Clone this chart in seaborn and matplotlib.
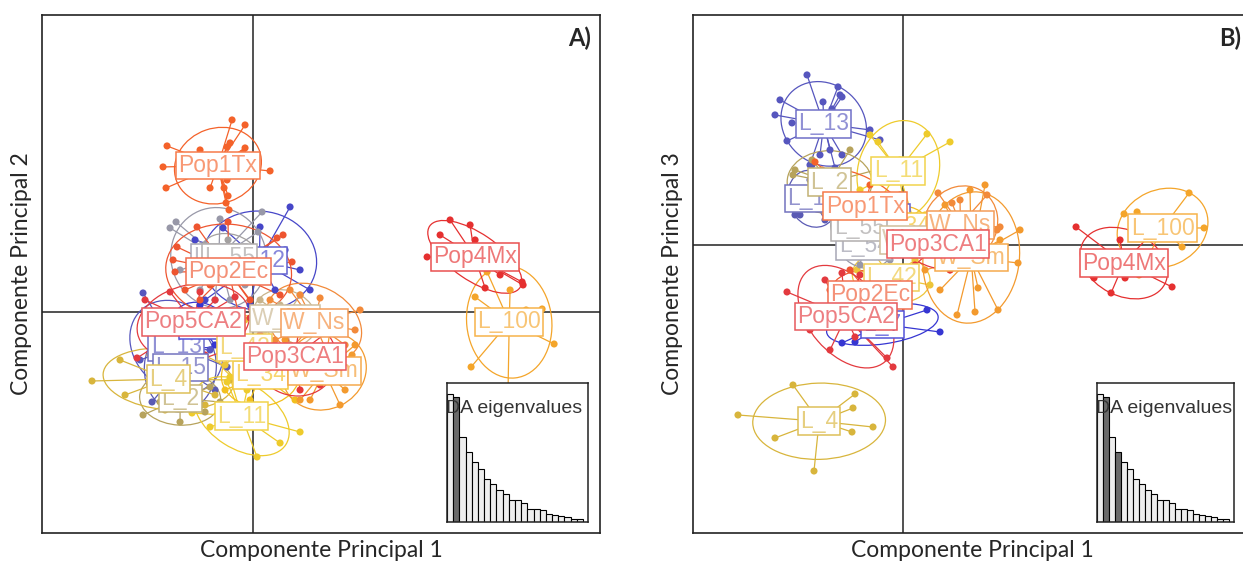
import numpy as np
import pandas as pd
import seaborn as sns
import matplotlib.pyplot as plt
from matplotlib.patches import Ellipse
from matplotlib.collections import LineCollection
from matplotlib.colors import to_rgb

sns.set_theme(style="white")
plt.rcParams['font.family'] = ['Liberation Sans', 'DejaVu Sans']

# group colours
colors = {
    "L_12": "#4646C8", "L_13": "#5656BE", "L_15": "#5A5AB4", "L_7": "#3636D2",
    "L_2": "#B7A35C", "L_4": "#D8B53C", "L_11": "#EECB2C", "L_34": "#F2BF1E",
    "L_42": "#EDC53A", "L_54": "#9898A8", "L_55": "#A3A0A0", "L_100": "#F4A52A",
    "W_Ma": "#C8B48C", "W_Sm": "#F39A2E", "W_Ns": "#F28A3A",
    "Pop1Tx": "#F4622A", "Pop4Mx": "#E53030", "Pop2Ec": "#EE5530",
    "Pop5CA2": "#E33A3F", "Pop3CA1": "#E5383B",
}
# drawing order (later labels sit on top)
order = list(colors.keys())

# ---- panel A : LD1 vs LD2 ----
A_Pop1Tx = [(-8.6, 16.6), (-9.0, 14.5), (-8.7, 12.4), (-4.3, 12.4), (-2.3, 16.9), (-2.6, 16.5),
            (-0.8, 16.4), (-1.0, 15.9), (1.7, 14.1), (-2.6, 13.2), (-2.9, 12.4), (-2.5, 11.6),
            (-2.7, 10.9), (-2.4, 10.2), (-2.1, 19.2), (-0.8, 18.7), (-5.3, 16.2), (-6.3, 15.2)]
A_Pop2Ec = [(-7.6, 6.5), (-8.0, 5.2), (-7.8, 4.0), (-5.6, 8.5), (-2.5, 9.0), (2.4, 7.4), (3.0, 7.7),
            (3.9, 5.0), (2.7, 1.7), (-0.3, 1.2), (-5.3, 1.2), (-6.8, 2.2), (-1.3, -0.8), (0.9, -0.6),
            (-4.3, 2.7)]
A_L_54 = [(-8.3, 8.4), (-7.7, 9.0), (-3.3, 9.3), (0.9, 10.0), (0.5, 8.0), (-0.8, 2.7), (-5.3, 2.2),
          (-2.3, 1.2), (-7.3, 4.2), (-3.8, 1.2), (-0.3, 3.2)]
A_L_12 = [(3.7, 10.5), (0.7, 8.5), (-3.0, 8.4), (-5.8, 7.2), (-4.8, 1.2), (-0.3, 0.7), (2.2, 2.2),
          (3.2, 6.2), (4.7, 4.2), (5.7, 2.2)]
A_L_55 = [(-4.8, 6.7), (0.2, 6.2), (-0.3, 3.2), (-4.3, 3.7), (-2.5, 7.2)]
A_Pop5CA2 = [(-11.6, -4.6), (-10.8, 1.2), (-8.3, 2.0), (-5.3, 2.0), (-1.8, 1.5), (-0.3, -0.6),
             (-1.3, -3.3), (-4.8, -4.3), (-8.3, -3.8), (-9.3, -2.3), (-3.8, 1.2)]
A_W_Ma = [(0.7, 1.2), (4.7, 1.7), (6.7, -1.8), (3.7, -3.3), (0.7, -2.3), (2.7, 0.7)]
A_W_Ns = [(6.7, 1.4), (10.2, -1.8), (9.2, -3.3), (4.7, 1.7), (3.7, 2.2), (1.7, 1.2), (8.2, -5.8),
          (3.7, -3.8), (2.2, -2.8), (10.7, 0.2)]
A_Pop3CA1 = [(1.7, -6.8), (4.7, -7.8), (6.7, -7.3), (2.7, -0.8), (7.7, -1.8), (8.2, -4.8),
             (-0.3, -5.3), (0.7, -2.3), (4.7, -0.8), (5.2, -6.8)]
A_W_Sm = [(9.9, -4.3), (9.2, -7.8), (8.7, -9.3), (4.7, -8.8), (3.2, -2.8), (2.2, -6.3), (7.7, -1.8),
          (5.7, -8.8), (9.7, -5.8), (10.2, -3.3)]
A_L_34 = [(-2.3, -3.8), (3.7, -3.3), (4.2, -8.8), (-0.3, -8.8), (-2.8, -7.8), (1.7, -4.3),
          (-1.3, -6.8), (3.2, -6.8)]
A_L_42 = [(-3.3, -1.8), (1.2, -1.8), (1.7, -5.3), (-2.8, -5.3), (-0.8, -0.8), (-1.3, -6.3)]
A_L_13 = [(-11.0, 1.9), (-2.6, -5.5), (-10.3, -1.8), (-11.3, -4.8), (-5.3, 0.2), (-4.3, -3.8),
          (-7.3, -6.8), (-9.3, -7.3)]
A_L_15 = [(-10.1, -9.0), (-4.3, -1.8), (-3.8, -7.8), (-9.3, -3.3), (-5.8, -8.8), (-8.3, -1.8),
          (-9.3, -6.3)]
A_L_7 = [(-7.8, -0.3), (-2.8, -0.8), (-3.8, -3.3), (-6.8, -2.8), (-5.3, 0.7)]
A_L_4 = [(-16.1, -6.9), (-13.3, -4.8), (-10.3, -4.3), (-8.8, -9.8), (-4.8, -9.3), (-5.3, -4.8),
         (-7.3, -3.8), (-12.8, -8.3), (-2.3, -6.8), (-3.8, -8.3)]
A_L_2 = [(-11.0, -10.3), (-10.3, -7.0), (-8.0, -5.3), (-4.3, -7.5), (-4.8, -10.0), (-7.3, -11.0),
         (-9.3, -9.0), (-3.3, -9.0)]
A_L_11 = [(-4.3, -11.5), (-2.3, -11.3), (4.7, -12.0), (2.7, -13.1), (-0.6, -7.8), (-2.6, -7.0),
          (-2.3, -6.5), (-6.1, -10.1), (0.4, -14.5)]
A_Pop4Mx = [(17.4, 5.5), (23.2, 2.4), (26.9, 3.0), (27.0, 2.7), (21.7, 8.7), (19.7, 9.2),
            (24.7, 3.7), (20.2, 5.0), (22.2, 7.2), (18.7, 7.7)]
A_L_100 = [(23.4, 4.0), (22.2, 1.5), (27.3, 0.2), (28.9, 0.3), (30.1, -3.2), (21.8, -5.5),
           (25.5, -7.5), (25.7, 2.2)]

# ---- panel B : LD1 vs LD3 ----
B_L_13 = [(-9.6, 17.0), (-6.5, 15.8), (-6.3, 15.0), (-6.1, 14.8), (-8.0, 14.3), (-7.1, 13.6),
          (-11.1, 12.2), (-11.6, 10.4), (-7.3, 9.5), (-6.1, 9.0), (-8.3, 9.0), (-9.3, 8.0), (-6.8, 7.7),
          (-3.3, 11.5), (-2.3, 10.5), (-12.8, 13.0), (-12.3, 14.5)]
B_L_11 = [(2.4, 11.1), (4.7, 10.3), (-2.5, 10.3), (-3.3, 11.0), (0.2, 3.5), (1.2, 2.0), (-2.3, 4.5),
          (-4.3, 5.5), (-0.3, 8.5)]
B_L_2 = [(-10.8, 7.5), (-11.0, 7.0), (-9.1, 8.5), (-5.3, 9.5), (-4.3, 4.5), (-7.3, 3.0), (-9.8, 4.0),
         (-5.8, 5.0), (-2.7, 7.5)]
B_L_15 = [(-11.3, 5.5), (-10.8, 3.0), (-10.3, 3.0), (-7.8, 2.5), (-6.3, 3.0), (-7.3, 5.5),
          (-9.3, 6.5), (-9.1, 8.0)]
B_L_12 = [(-3.3, 4.5), (-0.8, 4.0), (0.2, 2.0), (-2.3, 1.0), (-4.3, 2.0)]
B_Pop1Tx = [(-8.8, 8.3), (-8.1, 7.5), (-5.3, 4.5), (-1.3, 3.0), (0.2, 2.0), (-2.3, 1.5), (-5.8, 1.5),
            (-7.3, 3.0), (-3.3, 6.0), (-0.3, 5.0), (0.7, 0.5)]
B_L_55 = [(-6.8, 3.5), (-2.3, 3.0), (-1.8, 0.5), (-5.3, 0.0), (-3.8, 2.5), (-6.3, 1.0)]
B_L_54 = [(-6.3, 1.5), (-2.3, 0.5), (-1.3, -1.5), (-4.3, -2.0), (-5.8, -1.0), (-3.3, 2.0)]
B_L_34 = [(-1.3, 3.5), (2.2, 3.0), (1.7, 0.0), (-1.8, 0.5), (0.2, 2.0)]
B_W_Ma = [(0.2, 1.5), (2.7, 0.5), (1.7, -1.0), (-0.3, -0.5), (1.7, 2.0)]
B_W_Ns = [(8.4, 5.0), (3.5, 5.2), (4.9, 4.2), (9.4, 1.5), (9.7, 1.8), (5.7, 4.5), (3.2, 0.0),
          (5.7, -1.5), (2.2, 2.0), (4.7, -2.5)]
B_W_Sm = [(11.5, -1.8), (9.5, -6.5), (7.2, -6.7), (5.4, -7.0), (7.5, -4.3), (3.7, -4.5), (2.2, -2.5),
          (9.7, 0.5), (6.7, 5.5), (8.2, 6.0), (4.2, 4.0), (11.7, 1.5), (1.2, -0.5)]
B_Pop3CA1 = [(0.2, 2.5), (1.7, 0.5), (5.7, 1.0), (8.2, -0.5), (4.7, -2.5), (1.2, -2.0), (2.7, 1.5)]
B_L_42 = [(-2.8, -1.0), (1.2, -1.5), (2.7, -4.0), (-0.3, -5.5), (-3.3, -5.0), (-4.6, -2.5)]
B_Pop2Ec = [(-5.3, -2.5), (-0.3, -3.5), (0.2, -6.0), (-2.3, -7.5), (-5.8, -7.0), (-7.3, -4.5),
            (-4.3, -4.0), (-1.3, -5.0)]
B_Pop5CA2 = [(-11.6, -4.7), (-6.1, -2.8), (-7.3, -10.5), (-1.6, -11.3), (-1.0, -12.2), (-4.8, -9.2),
             (-9.3, -8.5), (-3.3, -6.0), (-7.8, -3.5), (-4.3, -3.0)]
B_L_7 = [(2.4, -6.5), (3.7, -8.7), (-6.1, -9.8), (-4.8, -9.7), (-3.3, -7.5), (-0.3, -8.3),
         (-7.3, -7.5), (-0.8, -5.5)]
B_L_4 = [(-11.0, -14.0), (-4.8, -14.9), (-5.0, -16.3), (-16.5, -17.0), (-12.8, -19.3), (-5.1, -18.7),
         (-3.0, -18.2), (-8.9, -22.6)]
B_Pop4Mx = [(17.3, 1.8), (19.1, -3.3), (22.2, -3.3), (20.8, -4.8), (26.9, -4.2), (24.0, -2.2),
            (21.7, 0.5), (24.7, 1.0)]
B_L_100 = [(28.6, 5.2), (22.1, 3.1), (23.4, 3.3), (30.1, 1.7), (23.6, -3.0), (27.9, -0.2)]

# DA eigenvalues (relative)
eig = [0.92, 0.90, 0.615, 0.505, 0.43, 0.38, 0.31, 0.27, 0.23, 0.205, 0.16, 0.155, 0.135,
       0.095, 0.09, 0.085, 0.055, 0.05, 0.045, 0.035, 0.025, 0.02]

panel_a = {"L_12": A_L_12, "L_13": A_L_13, "L_15": A_L_15, "L_7": A_L_7, "L_2": A_L_2,
           "L_4": A_L_4, "L_11": A_L_11, "L_34": A_L_34, "L_42": A_L_42, "L_54": A_L_54,
           "L_55": A_L_55, "L_100": A_L_100, "W_Ma": A_W_Ma, "W_Sm": A_W_Sm, "W_Ns": A_W_Ns,
           "Pop1Tx": A_Pop1Tx, "Pop4Mx": A_Pop4Mx, "Pop2Ec": A_Pop2Ec, "Pop5CA2": A_Pop5CA2,
           "Pop3CA1": A_Pop3CA1}
panel_b = {"L_12": B_L_12, "L_13": B_L_13, "L_15": B_L_15, "L_7": B_L_7, "L_2": B_L_2,
           "L_4": B_L_4, "L_11": B_L_11, "L_34": B_L_34, "L_42": B_L_42, "L_54": B_L_54,
           "L_55": B_L_55, "L_100": B_L_100, "W_Ma": B_W_Ma, "W_Sm": B_W_Sm, "W_Ns": B_W_Ns,
           "Pop1Tx": B_Pop1Tx, "Pop4Mx": B_Pop4Mx, "Pop2Ec": B_Pop2Ec, "Pop5CA2": B_Pop5CA2,
           "Pop3CA1": B_Pop3CA1}


def lighten(c, f=0.35):
    r, g, b = to_rgb(c)
    return (r + (1 - r) * f, g + (1 - g) * f, b + (1 - b) * f)


def draw_panel(ax, pts, xlim, ylim, tag, ylab):
    df = pd.DataFrame([(g, x, y) for g in order for x, y in pts[g]], columns=["grp", "x", "y"])
    ax.axhline(0, color="#222222", lw=1.1, zorder=1)
    ax.axvline(0, color="#222222", lw=1.1, zorder=1)
    for g in order:
        sub = df[df.grp == g]
        cx, cy = sub.x.mean(), sub.y.mean()
        # 1.5 sd ellipse, as in adegenet's s.class
        vals, vecs = np.linalg.eigh(np.cov(sub.x, sub.y, bias=True))
        ang = np.degrees(np.arctan2(vecs[1, 1], vecs[0, 1]))
        ax.add_patch(Ellipse((cx, cy), 3 * np.sqrt(vals[1]), 3 * np.sqrt(vals[0]),
                             angle=ang, fill=False, ec=colors[g], lw=0.9, zorder=2))
        segs = [[(cx, cy), (x, y)] for x, y in zip(sub.x, sub.y)]
        ax.add_collection(LineCollection(segs, colors=colors[g], lw=0.9, zorder=2))
    sns.scatterplot(data=df, x="x", y="y", hue="grp", palette=colors, s=26, edgecolor="none",
                    legend=False, ax=ax, zorder=3)
    for i, g in enumerate(order):
        sub = df[df.grp == g]
        ax.text(sub.x.mean(), sub.y.mean(), g, ha="center", va="center", fontsize=16.5,
                color=lighten(colors[g]), zorder=10 + i,
                bbox=dict(boxstyle="square,pad=0.1", fc="white", ec=lighten(colors[g], 0.15), lw=1.1))
    ax.set_xlim(xlim)
    ax.set_ylim(ylim)
    ax.set_xticks([])
    ax.set_yticks([])
    for s in ax.spines.values():
        s.set_color("#222222")
        s.set_linewidth(1.2)
    ax.set_xlabel("Componente Principal 1", family="Lato", fontsize=16.5, labelpad=5)
    ax.set_ylabel(ylab, family="Lato", fontsize=16.5, labelpad=7)
    ax.text(0.983, 0.955, tag, transform=ax.transAxes, ha="right", va="center",
            family="Lato", fontweight="bold", fontsize=17, zorder=40)


def draw_eig(ax, dark):
    names = [str(i) for i in range(len(eig))]
    pal = {n: ("#6a6a6a" if i in dark else "#eeeeee") for i, n in enumerate(names)}
    sns.barplot(x=names, y=eig, hue=names, palette=pal, width=1, edgecolor="black",
                linewidth=0.8, legend=False, ax=ax)
    ax.set_xlim(-0.5, len(eig) + 0.3)
    ax.set_ylim(0, 1)
    ax.set_xticks([])
    ax.set_yticks([])
    ax.set_xlabel("")
    ax.set_ylabel("")
    for s in ax.spines.values():
        s.set_color("#222222")
        s.set_linewidth(1.1)
    ax.text(-0.01, 0.82, "DA eigenvalues", transform=ax.transAxes, ha="left", va="center",
            fontsize=14, color="#333333")


fig = plt.figure(figsize=(12.43, 5.65), dpi=100)
ax_a = fig.add_axes([0.0338, 0.0566, 0.449, 0.917])
ax_b = fig.add_axes([0.5575, 0.0566, 0.449, 0.917])
draw_panel(ax_a, panel_a, (-21.1, 34.7), (-22.1, 29.7), "A)", "Componente Principal 2")
draw_panel(ax_b, panel_b, (-21.0, 34.8), (-28.8, 23.0), "B)", "Componente Principal 3")

ins_a = fig.add_axes([0.3596, 0.0761, 0.1134, 0.246])
ins_b = fig.add_axes([0.8826, 0.0761, 0.1102, 0.246])
draw_eig(ins_a, [1])
draw_eig(ins_b, [1, 3])

fig.savefig("out.png", dpi=100)
